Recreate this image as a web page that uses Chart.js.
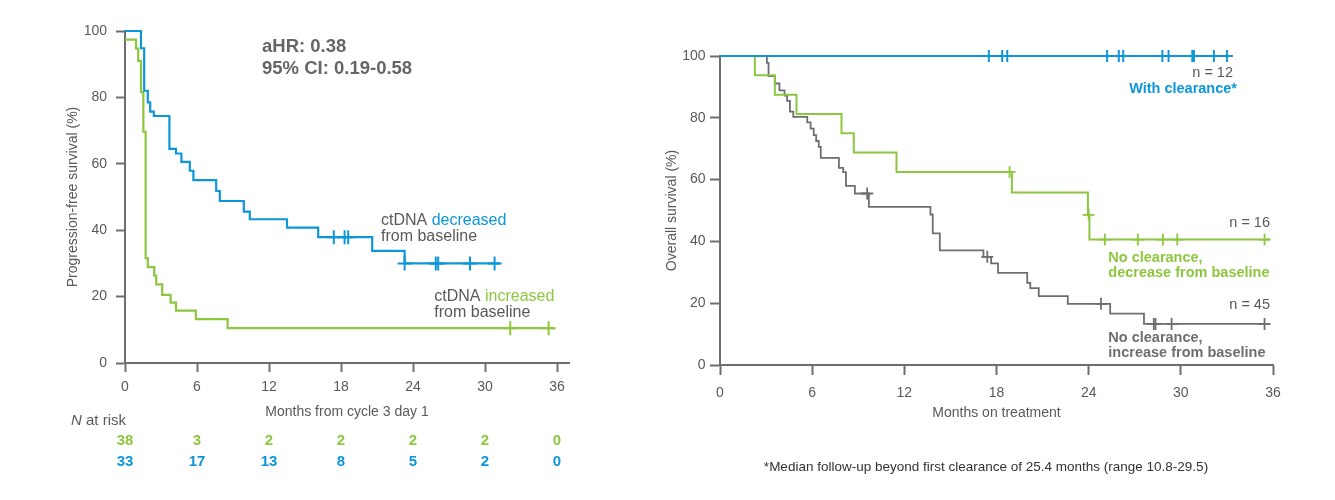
<!DOCTYPE html>
<html><head><meta charset="utf-8">
<script src="https://cdn.jsdelivr.net/npm/chart.js@4.4.1/dist/chart.umd.min.js"></script>
<style>
html,body{margin:0;padding:0;background:#fff;width:1335px;height:500px;overflow:hidden}
canvas{position:absolute;top:0}
#c1{left:0}
#c2{left:630px}
</style></head><body>
<canvas id="c1" width="630" height="500"></canvas>
<canvas id="c2" width="705" height="500"></canvas>
<script>
// ---------- DATA ----------
const xTicks = [0, 6, 12, 18, 24, 30, 36];
const yTicks = [0, 20, 40, 60, 80, 100];

// Left panel: PFS
const pfsDecTimes = [0, 1.33, 1.6, 1.9, 2.1, 2.4, 3.7, 4.25, 4.7, 5.4, 5.7, 7.6, 7.9, 9.9, 10.4, 13.5, 16.1, 20.6, 23.3, 31.25];
const pfsDecSurv  = [100, 94.8, 82.0, 78.5, 75.7, 74.4, 64.5, 63.1, 60.6, 57.9, 55.1, 51.8, 48.8, 45.6, 43.3, 40.8, 37.9, 33.8, 30.0, 30.0];
const pfsDecCensor = [17.4, 18.3, 18.6, 23.3, 25.9, 26.1, 28.75, 30.8];

const pfsIncTimes = [0, 0.92, 1.1, 1.33, 1.53, 1.72, 1.9, 2.44, 2.6, 3.1, 3.8, 4.25, 5.9, 8.55, 35.8];
const pfsIncSurv  = [97.4, 94.7, 91.0, 81.6, 69.7, 31.6, 28.9, 26.3, 23.7, 20.5, 18.2, 15.8, 13.2, 10.5, 10.5];
const pfsIncCensor = [32.1, 35.3];

const atRiskMonths = [0, 6, 12, 18, 24, 30, 36];
const atRiskIncreased = [38, 3, 2, 2, 2, 2, 0];
const atRiskDecreased = [33, 17, 13, 8, 5, 2, 0];

// Right panel: OS
const osClearTimes = [0, 33.3];
const osClearSurv  = [100, 100];
const osClearCensor = [17.5, 18.37, 18.7, 25.2, 25.96, 26.25, 28.8, 29.2, 30.75, 30.85, 32.15, 33.0];

const osDecTimes = [0, 2.27, 3.57, 4.98, 7.91, 8.71, 11.49, 19.0, 23.95, 24.05, 35.8];
const osDecSurv  = [100, 93.75, 87.5, 81.25, 75, 68.75, 62.5, 55.8, 48.6, 40.6, 40.6];
const osDecCensor = [18.85, 24.0, 25.05, 27.2, 28.83, 29.77, 35.45];

const osIncTimes = [0, 3.05, 3.16, 3.57, 3.87, 4.2, 4.37, 4.55, 4.77, 5.68, 5.9, 6.1, 6.26, 6.43, 6.56, 7.74, 8.02, 8.2, 8.78, 9.69, 13.7, 13.85, 14.31, 17.15, 17.65, 18.1, 20.0, 20.2, 20.75, 22.64, 25.4, 27.6, 35.8];
const osIncSurv  = [100, 97.8, 93.5, 91.1, 88.9, 87.2, 85.5, 82.0, 80.3, 78.5, 76.5, 74.4, 72.5, 70.6, 67.0, 63.8, 62.4, 58.0, 55.5, 51.2, 48.7, 42.6, 37.1, 35.0, 32.9, 29.8, 26.6, 24.9, 22.3, 19.8, 16.6, 13.3, 13.3];
const osIncCensor = [9.58, 17.4, 24.8, 28.24, 28.35, 29.4, 35.45];

// ---------- STYLE ----------
const FONT = '"Liberation Sans", Arial, Helvetica, sans-serif';
const BLUE = '#0d96d8';
const GREEN = '#8dc63f';
const GREY = '#6d6e71';
const AXIS = '#6d6e71';
const TEXT = '#58595b';

function levelAt(times, surv, t) {
  let v = surv[0];
  for (let i = 0; i < times.length; i++) if (times[i] <= t) v = surv[i];
  return v;
}
function curve(times, surv, color, width) {
  return {
    type: 'line',
    data: times.map((t, i) => ({x: t, y: surv[i]})),
    stepped: true, borderColor: color, borderWidth: width,
    pointRadius: 0, fill: false, clip: false, tension: 0
  };
}
function censors(times, surv, cens, color, r, w) {
  return {
    type: 'scatter',
    data: cens.map(t => ({x: t, y: levelAt(times, surv, t)})),
    showLine: false, pointStyle: 'cross', pointRadius: r,
    pointBorderColor: color, pointBackgroundColor: color, pointBorderWidth: w, clip: false
  };
}

function axes(o) {
  return {
    x: {
      type: 'linear', min: 0, max: o.xmax,
      afterBuildTicks: s => { s.ticks = xTicks.map(v => ({value: v})); },
      afterFit: s => { s.height = o.xh; },
      border: {color: AXIS, width: 2},
      grid: {drawOnChartArea: false, drawTicks: true, tickLength: o.tl, tickWidth: 2, tickColor: AXIS},
      ticks: {color: TEXT, font: {family: FONT, size: 14}, padding: o.xpad, autoSkip: false, maxRotation: 0},
      title: {display: true, text: o.xtitle, color: TEXT, font: {family: FONT, size: 14}, padding: {top: 0, bottom: o.xtpad}}
    },
    y: {
      type: 'linear', min: 0, max: 100,
      afterBuildTicks: s => { s.ticks = yTicks.map(v => ({value: v})); },
      afterFit: s => { s.width = o.yw; },
      border: {color: AXIS, width: 2},
      grid: {drawOnChartArea: false, drawTicks: true, tickLength: o.tl, tickWidth: 2, tickColor: AXIS},
      ticks: {color: TEXT, font: {family: FONT, size: 14}, padding: o.ypad},
      title: {display: true, text: o.ytitle, color: TEXT, font: {family: FONT, size: 14}, padding: {top: o.ytpad, bottom: 0}}
    }
  };
}

// text drawing plugin: items with parts [{t, color, font}], x, y (canvas px), align
function textPlugin(items, extra) {
  return {
    id: 'txt',
    afterDraw(chart) {
      const ctx = chart.ctx;
      ctx.save();
      ctx.textBaseline = 'alphabetic';
      items.forEach(it => {
        let total = 0;
        it.parts.forEach(p => { ctx.font = p.font; total += ctx.measureText(p.t).width; });
        let x = it.x;
        if (it.align === 'right') x -= total;
        if (it.align === 'center') x -= total / 2;
        it.parts.forEach(p => {
          ctx.font = p.font; ctx.fillStyle = p.color; ctx.textAlign = 'left';
          ctx.fillText(p.t, x, it.y);
          x += ctx.measureText(p.t).width;
        });
      });
      if (extra) extra(chart, ctx);
      ctx.restore();
    }
  };
}
const f = (w, s, st) => `${st || ''} ${w} ${s}px ${FONT}`.trim();

// ---------- LEFT CHART ----------
const leftTexts = [
  {x: 262, y: 51.5, parts: [{t: 'aHR: 0.38', color: '#666', font: f('bold', 18.5)}]},
  {x: 262, y: 74, parts: [{t: '95% CI: 0.19-0.58', color: '#666', font: f('bold', 18.5)}]},
  {x: 381, y: 224.5, parts: [{t: 'ctDNA ', color: TEXT, font: f('normal', 16)}, {t: 'decreased', color: BLUE, font: f('normal', 16)}]},
  {x: 381, y: 241, parts: [{t: 'from baseline', color: TEXT, font: f('normal', 16)}]},
  {x: 434.3, y: 300.7, parts: [{t: 'ctDNA ', color: TEXT, font: f('normal', 16)}, {t: 'increased', color: GREEN, font: f('normal', 16)}]},
  {x: 434.3, y: 317, parts: [{t: 'from baseline', color: TEXT, font: f('normal', 16)}]},
  {x: 126, y: 425, align: 'right', parts: [{t: 'N', color: TEXT, font: f('normal', 15, 'italic')}, {t: ' at risk', color: TEXT, font: f('normal', 15)}]}
];
function drawAtRisk(chart, ctx) {
  const xs = chart.scales.x;
  ctx.textAlign = 'center';
  ctx.textBaseline = 'middle';
  ctx.font = f('bold', 15);
  atRiskMonths.forEach((m, i) => {
    const px = xs.getPixelForValue(m);
    ctx.fillStyle = GREEN; ctx.fillText(String(atRiskIncreased[i]), px, 440.5);
    ctx.fillStyle = BLUE; ctx.fillText(String(atRiskDecreased[i]), px, 461.5);
  });
}

new Chart(document.getElementById('c1'), {
  data: {datasets: [
    censors(pfsDecTimes, pfsDecSurv, pfsDecCensor, BLUE, 7, 2),
    curve(pfsDecTimes, pfsDecSurv, BLUE, 2.2),
    censors(pfsIncTimes, pfsIncSurv, pfsIncCensor, GREEN, 7, 2),
    curve(pfsIncTimes, pfsIncSurv, GREEN, 2.2)
  ]},
  options: {
    responsive: false, animation: false, devicePixelRatio: 1,
    layout: {padding: {left: 0, top: 31, right: 61, bottom: 0}},
    plugins: {legend: {display: false}, tooltip: {enabled: false}},
    scales: axes({xmax: 37, xh: 137, tl: 9, xpad: 7, xtpad: 79.6, xtitle: 'Months from cycle 3 day 1',
                  yw: 125, ypad: 9, ytpad: 64.6, ytitle: 'Progression-free survival (%)'})
  },
  plugins: [textPlugin(leftTexts, drawAtRisk)]
});

// ---------- RIGHT CHART ----------
const OX = 630;
const rightTexts = [
  {x: 1233 - OX, y: 76.7, align: 'right', parts: [{t: 'n = 12', color: TEXT, font: f('normal', 14.5)}]},
  {x: 1237 - OX, y: 92.7, align: 'right', parts: [{t: 'With clearance*', color: BLUE, font: f('bold', 14.5)}]},
  {x: 1270 - OX, y: 226.7, align: 'right', parts: [{t: 'n = 16', color: TEXT, font: f('normal', 14.5)}]},
  {x: 1108.3 - OX, y: 261.7, parts: [{t: 'No clearance,', color: GREEN, font: f('bold', 14.5)}]},
  {x: 1108.3 - OX, y: 276.5, parts: [{t: 'decrease from baseline', color: GREEN, font: f('bold', 14.5)}]},
  {x: 1270 - OX, y: 309.3, align: 'right', parts: [{t: 'n = 45', color: TEXT, font: f('normal', 14.5)}]},
  {x: 1108.3 - OX, y: 341.7, parts: [{t: 'No clearance,', color: GREY, font: f('bold', 14.5)}]},
  {x: 1108.3 - OX, y: 357, parts: [{t: 'increase from baseline', color: GREY, font: f('bold', 14.5)}]},
  {x: 986 - OX, y: 471, align: 'center', parts: [{t: '*Median follow-up beyond first clearance of 25.4 months (range 10.8-29.5)', color: '#333', font: f('normal', 13.5)}]}
];

new Chart(document.getElementById('c2'), {
  data: {datasets: [
    censors(osClearTimes, osClearSurv, osClearCensor, BLUE, 6, 2),
    curve(osClearTimes, osClearSurv, BLUE, 2.2),
    censors(osDecTimes, osDecSurv, osDecCensor, GREEN, 6, 1.8),
    curve(osDecTimes, osDecSurv, GREEN, 2),
    censors(osIncTimes, osIncSurv, osIncCensor, GREY, 6, 1.8),
    curve(osIncTimes, osIncSurv, GREY, 1.8)
  ]},
  options: {
    responsive: false, animation: false, devicePixelRatio: 1,
    layout: {padding: {left: 0, top: 56, right: 62, bottom: 0}},
    plugins: {legend: {display: false}, tooltip: {enabled: false}},
    scales: axes({xmax: 36, xh: 135, tl: 10, xpad: 9.3, xtpad: 78.6, xtitle: 'Months on treatment',
                  yw: 90, ypad: 4.5, ytpad: 33.6, ytitle: 'Overall survival (%)'})
  },
  plugins: [textPlugin(rightTexts)]
});
</script>
</body></html>
